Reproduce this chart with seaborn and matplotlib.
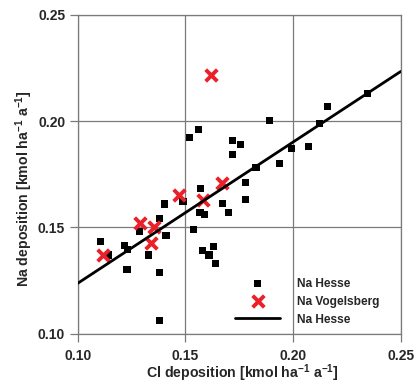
import numpy as np
import pandas as pd
import matplotlib
matplotlib.use("Agg")
import matplotlib.pyplot as plt
import seaborn as sns

# Hesse stations: Cl deposition vs Na deposition [kmol ha-1 a-1]
hesse_cl = [0.1108, 0.1145, 0.1217, 0.1230, 0.1229, 0.1288, 0.1328, 0.1380,
            0.1379, 0.1379, 0.1405, 0.1410, 0.1489, 0.1518, 0.1560, 0.1539,
            0.1569, 0.1568, 0.1591, 0.1579, 0.1631, 0.1610, 0.1640, 0.1671,
            0.1699, 0.1719, 0.1758, 0.1719, 0.1779, 0.1779, 0.1828, 0.1890,
            0.1939, 0.1991, 0.2071, 0.2121, 0.2159, 0.2348]
hesse_na = [0.1433, 0.1370, 0.1413, 0.1398, 0.1302, 0.1480, 0.1370, 0.1543,
            0.1289, 0.1061, 0.1610, 0.1461, 0.1620, 0.1921, 0.1961, 0.1492,
            0.1681, 0.1572, 0.1561, 0.1391, 0.1411, 0.1370, 0.1329, 0.1611,
            0.1570, 0.1910, 0.1891, 0.1841, 0.1710, 0.1631, 0.1780, 0.2001,
            0.1800, 0.1871, 0.1880, 0.1989, 0.2070, 0.2128]

# Vogelsberg stations
vogel_cl = [0.1119, 0.1289, 0.1356, 0.1340, 0.1470, 0.1581, 0.1668, 0.1619]
vogel_na = [0.1370, 0.1522, 0.1500, 0.1428, 0.1650, 0.1630, 0.1710, 0.2218]

# Linear relation for Hesse, evaluated at the axis limits
fit_cl = [0.10, 0.25]
fit_na = [0.1237, 0.2233]

x_ticks = [0.10, 0.15, 0.20, 0.25]
y_ticks = [0.10, 0.15, 0.20, 0.25]

sns.set_style("white")
plt.rcParams["font.family"] = ["Liberation Sans", "DejaVu Sans"]
plt.rcParams["font.weight"] = "bold"
plt.rcParams["mathtext.fontset"] = "custom"
plt.rcParams["mathtext.bf"] = "Liberation Sans:bold"
plt.rcParams["mathtext.rm"] = "Liberation Sans:bold"
plt.rcParams["mathtext.default"] = "bf"

fig = plt.figure(figsize=(4.15, 3.85), dpi=100)
ax = fig.add_axes([0.1872, 0.1332, 0.7783, 0.8286])

hesse = pd.DataFrame({"cl": hesse_cl, "na": hesse_na})
vogel = pd.DataFrame({"cl": vogel_cl, "na": vogel_na})
fit = pd.DataFrame({"cl": fit_cl, "na": fit_na})

sns.scatterplot(data=hesse, x="cl", y="na", marker="s", s=26, color="black",
                edgecolor="none", label="Na Hesse", ax=ax, zorder=3)
sns.scatterplot(data=vogel, x="cl", y="na", marker="x", s=70, color="#ea2128",
                linewidth=2.8, label="Na Vogelsberg", ax=ax, zorder=4)
sns.lineplot(data=fit, x="cl", y="na", color="black", linewidth=2.0,
             label="Na Hesse", ax=ax, zorder=5)

ax.set_xlim(0.10, 0.25)
ax.set_ylim(0.10, 0.25)
ax.set_xticks(x_ticks)
ax.set_yticks(y_ticks)
ax.set_xticklabels([f"{t:.2f}" for t in x_ticks])
ax.set_yticklabels([f"{t:.2f}" for t in y_ticks])

ax.grid(True, color="#7a7a7a", linewidth=0.9)
ax.set_axisbelow(True)
for sp in ax.spines.values():
    sp.set_color("#7a7a7a")
    sp.set_linewidth(0.9)

ax.tick_params(axis="both", direction="out", length=6, width=0.9,
               color="#7a7a7a", labelsize=10, bottom=True, left=True)
ax.tick_params(axis="x", pad=5)
ax.tick_params(axis="y", pad=3)
for lbl in ax.get_xticklabels() + ax.get_yticklabels():
    lbl.set_fontweight("bold")

ax.set_xlabel(r"Cl deposition [kmol ha$^{-1}$ a$^{-1}$]", fontsize=10.2,
              fontweight="bold")
ax.set_ylabel(r"Na deposition [kmol ha$^{-1}$ a$^{-1}$]", fontsize=10.2,
              fontweight="bold")
ax.xaxis.set_label_coords(0.51, -0.090)
ax.yaxis.set_label_coords(-0.132, 0.455)

leg = ax.legend(loc="upper left", bbox_to_anchor=(0.487, 0.176),
                frameon=False, borderpad=0, borderaxespad=0,
                handlelength=3.8, handletextpad=1.4, labelspacing=0.5,
                prop={"weight": "bold", "size": 8.6})

fig.savefig("out.png", dpi=100, facecolor="white")
